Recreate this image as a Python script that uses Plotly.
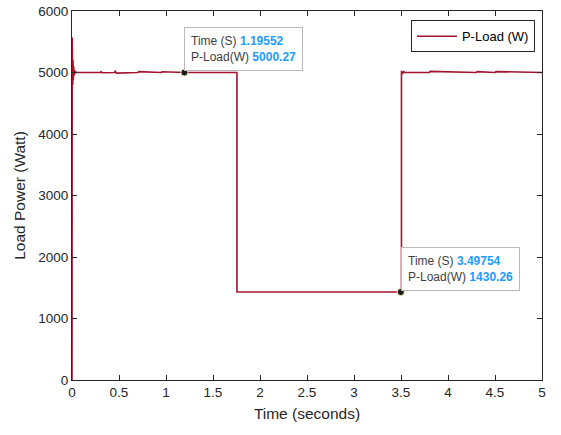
import plotly.graph_objects as go

# Load power waveform (time in s, power in W)
time_s = [0.0, 0.002, 0.004, 0.006, 0.008, 0.011, 0.014, 0.018, 0.022, 0.027, 0.033, 0.04, 0.05,
          0.3, 0.31, 0.32, 0.45, 0.46, 0.47, 0.7, 0.71, 0.95, 0.96, 1.19552, 1.5, 1.755,
          1.755, 2.5, 3.49754, 3.505,
          3.505, 3.515, 3.53, 3.54, 3.8, 3.81, 4.3, 4.31, 4.5, 4.51, 5.0]
power_w = [0.0, 5570.0, 4720.0, 5380.0, 4800.0, 5200.0, 4880.0, 5100.0, 4950.0, 5040.0, 4985.0, 5010.0, 5000.0,
           5000.0, 5015.0, 4995.0, 5000.0, 5020.0, 4990.0, 5000.0, 5015.0, 5000.0, 5012.0, 5000.27, 5000.0, 5000.0,
           1430.0, 1430.0, 1430.26, 1430.0,
           5030.0, 4980.0, 5015.0, 5000.0, 5000.0, 5018.0, 5000.0, 5015.0, 5000.0, 5015.0, 5000.0]

# Data tips
tip_time = [1.19552, 3.49754]
tip_power = [5000.27, 1430.26]

line_color = "#A2142F"
axis_color = "#262626"
value_color = "#1E9BFF"
font_family = "Liberation Sans, Arial"

fig = go.Figure()
fig.add_trace(go.Scatter(
    x=time_s, y=power_w, mode="lines", name="P-Load (W)",
    line=dict(color=line_color, width=1.6),
))
fig.add_trace(go.Scatter(
    x=tip_time, y=tip_power, mode="markers", showlegend=False,
    marker=dict(color="#1a1a1a", size=7, line=dict(color="#e8e0a0", width=1)),
))

for tx, ty in zip(tip_time, tip_power):
    fig.add_annotation(
        x=tx, y=ty, xref="x", yref="y", showarrow=False,
        xanchor="left", yanchor="bottom", align="left",
        text=(f"Time (S) <b><span style='color:{value_color}'>{tx:.5f}</span></b><br>"
              f"P-Load(W) <b><span style='color:{value_color}'>{ty:.2f}</span></b>"),
        font=dict(family=font_family, size=12, color="#404040"),
        bgcolor="rgba(255,255,255,0.95)", bordercolor="#b8b8b8", borderwidth=1, borderpad=6,
        yshift=1,
    )

axis_common = dict(
    showline=True, linecolor=axis_color, linewidth=1, mirror="ticks",
    ticks="inside", ticklen=5, tickcolor=axis_color, showgrid=False, zeroline=False,
    automargin=False,
    tickfont=dict(family=font_family, size=13.5, color=axis_color),
)

fig.update_layout(
    width=561, height=435,
    margin=dict(l=72, r=19, t=11, b=55),
    paper_bgcolor="white", plot_bgcolor="white",
    xaxis=dict(range=[0, 5], dtick=0.5, title=dict(text="Time (seconds)", standoff=8,
               font=dict(family=font_family, size=15.5, color=axis_color)), **axis_common),
    yaxis=dict(range=[0, 6000], dtick=1000, title=dict(text="Load Power (Watt)", standoff=8,
               font=dict(family=font_family, size=15.5, color=axis_color)), **axis_common),
    legend=dict(x=0.985, y=0.975, xanchor="right", yanchor="top",
                bgcolor="white", bordercolor=axis_color, borderwidth=1,
                font=dict(family=font_family, size=13, color="#000000"),
                itemwidth=40, tracegroupgap=0),
    showlegend=True,
)

fig.write_html("out.html")
